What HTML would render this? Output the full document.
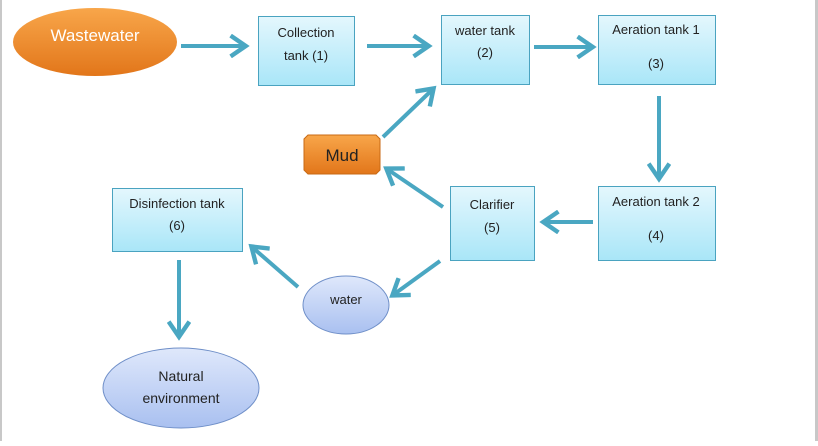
<!DOCTYPE html>
<html><head><meta charset="utf-8"><style>
body{margin:0;background:#fff;}
svg text{font-family:"Liberation Sans",sans-serif;}
</style></head><body>
<svg width="818" height="441" viewBox="0 0 818 441" xmlns="http://www.w3.org/2000/svg">
<defs>
<linearGradient id="box" x1="0" y1="0" x2="0" y2="1"><stop offset="0" stop-color="#e4f7fd"/><stop offset="1" stop-color="#a9e6f8"/></linearGradient>
<linearGradient id="org" x1="0" y1="0" x2="0" y2="1"><stop offset="0" stop-color="#f8a64a"/><stop offset="1" stop-color="#e2761a"/></linearGradient>
<linearGradient id="blu" x1="0" y1="0" x2="0" y2="1"><stop offset="0" stop-color="#dfe8fb"/><stop offset="1" stop-color="#a9c0f0"/></linearGradient>
<marker id="ah" markerWidth="6" markerHeight="6" refX="4.2" refY="3" orient="auto" markerUnits="strokeWidth"><path d="M0.6,0.4 L4.4,3 L0.6,5.6" fill="none" stroke="#4aa7c2" stroke-width="1.1"/></marker>
</defs>
<rect x="0" y="0" width="2" height="441" fill="#c8c8c8"/>
<rect x="815" y="0" width="3" height="441" fill="#c8c8c8"/>
<g stroke="#4aa7c2" stroke-width="4" fill="none" marker-end="url(#ah)">
<line x1="181" y1="46" x2="245" y2="46"/>
<line x1="367" y1="46" x2="428" y2="46"/>
<line x1="534" y1="47" x2="592" y2="47"/>
<line x1="659" y1="96" x2="659" y2="178"/>
<line x1="593" y1="222" x2="544" y2="222"/>
<line x1="443" y1="207" x2="387" y2="169"/>
<line x1="383" y1="137" x2="433" y2="89"/>
<line x1="440" y1="261" x2="393" y2="295"/>
<line x1="298" y1="287" x2="252" y2="247"/>
<line x1="179" y1="260" x2="179" y2="336"/>
</g>
<ellipse cx="95" cy="42" rx="82" ry="34" fill="url(#org)"/>
<text x="95" y="41" font-size="17" fill="#fff" text-anchor="middle">Wastewater</text>
<g stroke="#4aa3c0" stroke-width="1" fill="url(#box)">
<rect x="258.5" y="16.5" width="96" height="69"/>
<rect x="441.5" y="15.5" width="88" height="69"/>
<rect x="598.5" y="15.5" width="117" height="69"/>
<rect x="598.5" y="186.5" width="117" height="74"/>
<rect x="450.5" y="186.5" width="84" height="74"/>
<rect x="112.5" y="188.5" width="130" height="63"/>
</g>
<g font-size="13" fill="#222" text-anchor="middle">
<text x="306" y="37">Collection</text><text x="306" y="60">tank (1)</text>
<text x="485" y="35">water tank</text><text x="485" y="57">(2)</text>
<text x="656" y="34">Aeration tank 1</text><text x="656" y="68">(3)</text>
<text x="656" y="206">Aeration tank 2</text><text x="656" y="240">(4)</text>
<text x="492" y="209">Clarifier</text><text x="492" y="232">(5)</text>
<text x="177" y="208">Disinfection tank</text><text x="177" y="230">(6)</text>
</g>
<path d="M308,135 H376 L380,139 V170 L376,174 H308 L304,170 V139 Z" fill="url(#org)" stroke="#c86a14" stroke-width="1"/>
<text x="342" y="161" font-size="17" fill="#222" text-anchor="middle">Mud</text>
<ellipse cx="346" cy="305" rx="43" ry="29" fill="url(#blu)" stroke="#6f8fc8" stroke-width="1"/>
<text x="346" y="304" font-size="13" fill="#222" text-anchor="middle">water</text>
<ellipse cx="181" cy="388" rx="78" ry="40" fill="url(#blu)" stroke="#6f8fc8" stroke-width="1"/>
<text x="181" y="381" font-size="14" fill="#222" text-anchor="middle">Natural</text>
<text x="181" y="403" font-size="14" fill="#222" text-anchor="middle">environment</text>
</svg>
</body></html>
